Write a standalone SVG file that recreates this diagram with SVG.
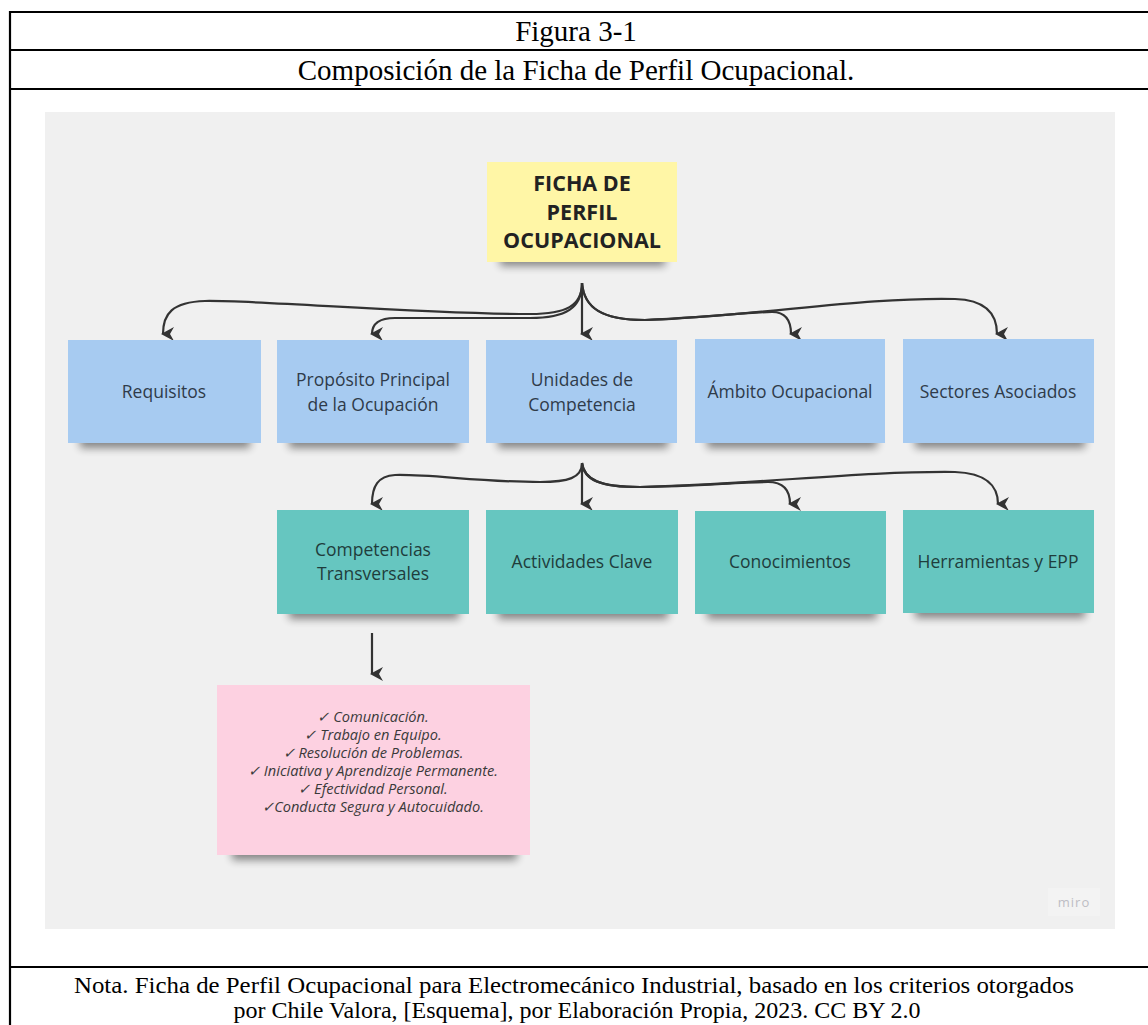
<svg xmlns="http://www.w3.org/2000/svg" width="1148" height="1025" viewBox="0 0 1148 1025">
<style>
.cap{font-family:"Liberation Serif","Times New Roman",serif;font-size:24px;fill:#000;text-anchor:middle}
.capb{font-family:"Liberation Serif","Times New Roman",serif;font-size:29px;fill:#000;text-anchor:middle}
.lbl{font-family:"Open Sans","Noto Sans",sans-serif;font-size:17.5px;fill:#2f3b4a;text-anchor:middle}
.lblt{font-family:"Open Sans","Noto Sans",sans-serif;font-size:17.5px;fill:#1f3d3c;text-anchor:middle}
.head{font-family:"Open Sans","Noto Sans",sans-serif;font-size:21.5px;font-weight:bold;fill:#222;text-anchor:middle}
.lst{font-family:"Open Sans","Noto Sans",sans-serif;font-size:14.6px;font-style:italic;fill:#3a3a3a;text-anchor:middle}
.blue{fill:#a7cbf1}
.teal{fill:#66c6c0}
.pink{fill:#fdd1e1}
.yel{fill:#fff6a6}
.shd{fill:#000;opacity:0.45;filter:url(#blur)}
.con{fill:none;stroke:#333;stroke-width:2.2;marker-end:url(#ah)}
.rule{stroke:#000;stroke-width:2.2}
</style>
<defs>
<filter id="blur" x="-20%" y="-100%" width="140%" height="300%"><feGaussianBlur stdDeviation="4"/></filter>
<marker id="ah" markerUnits="userSpaceOnUse" markerWidth="16" markerHeight="16" viewBox="0 0 16 16" refX="8" refY="13" orient="auto"><path d="M1,2 L8,6 L15,2 L8,15 Z" fill="#333"/></marker>
</defs>
<rect width="1148" height="1025" fill="#fff"/>
<g id="table">
<line class="rule" x1="10" y1="12" x2="1148" y2="12"/>
<line class="rule" x1="10" y1="50" x2="1148" y2="50"/>
<line class="rule" x1="10" y1="89" x2="1148" y2="89"/>
<line class="rule" x1="10" y1="967" x2="1148" y2="967"/>
<line class="rule" x1="10" y1="11" x2="10" y2="1025"/>
<text class="capb" x="576" y="41">Figura 3-1</text>
<text class="capb" x="576" y="80">Composición de la Ficha de Perfil Ocupacional.</text>
<text class="cap" x="574" y="993" textLength="1000" lengthAdjust="spacingAndGlyphs">Nota. Ficha de Perfil Ocupacional para Electromecánico Industrial, basado en los criterios otorgados</text>
<text class="cap" x="577" y="1018">por Chile Valora, [Esquema], por Elaboración Propia, 2023. CC BY 2.0</text>
</g>
<rect id="panel" x="45" y="112" width="1070" height="817" fill="#f0f0f0"/>
<g id="miro-badge">
<rect x="1048" y="888" width="52" height="28" fill="#f3f3f3"/>
<text x="1074" y="907" font-family="Open Sans,Noto Sans,sans-serif" font-size="13" fill="#bdbdc4" text-anchor="middle" letter-spacing="1">miro</text>
</g>
<g id="connectors">
<path class="con" d="M582,283 C582,306 566,314 530,314 C420,314 260,300 205,301 C172,302 163,314 163,334"/>
<path class="con" d="M582,283 C582,308 566,318 530,318 L395,318 C379,318 372,324 372,334"/>
<path class="con" d="M582,283 L582,334"/>
<path class="con" d="M582,283 C584,308 602,320 645,320 C705,318 745,312 772,312 C786,312 791,321 791,334"/>
<path class="con" d="M582,283 C584,308 602,320 645,320 C760,316 860,297 955,299 C986,300 997,314 997,334"/>
<path class="con" d="M582,463 C582,478 568,482 540,482 C480,482 430,474 395,475 C378,476 372,486 372,504"/>
<path class="con" d="M582,463 L582,504"/>
<path class="con" d="M582,463 C584,480 600,487 640,487 C700,486 740,482 768,482 C783,482 790,490 790,504"/>
<path class="con" d="M582,463 C584,480 600,487 640,487 C760,484 860,471 955,472 C986,473 998,486 998,504"/>
<path class="con" d="M372,633 L372,674"/>
</g>
<g id="n-ficha">
<rect class="shd" x="500" y="248" width="165" height="18"/>
<rect class="yel" x="487" y="162" width="190" height="100"/>
<text class="head" x="582" y="191">FICHA DE</text>
<text class="head" x="582" y="220">PERFIL</text>
<text class="head" x="582" y="248">OCUPACIONAL</text>
</g>
<g id="n-requisitos">
<rect class="shd" x="80" y="432" width="170" height="16"/>
<rect class="blue" x="68" y="340" width="193" height="103"/>
<text class="lbl" x="164" y="398">Requisitos</text>
</g>
<g id="n-proposito">
<rect class="shd" x="289" y="432" width="170" height="16"/>
<rect class="blue" x="277" y="340" width="192" height="103"/>
<text class="lbl" x="373" y="386">Propósito Principal</text>
<text class="lbl" x="373" y="411">de la Ocupación</text>
</g>
<g id="n-unidades">
<rect class="shd" x="498" y="432" width="170" height="16"/>
<rect class="blue" x="486" y="340" width="191" height="103"/>
<text class="lbl" x="582" y="386">Unidades de</text>
<text class="lbl" x="582" y="411">Competencia</text>
</g>
<g id="n-ambito">
<rect class="shd" x="707" y="432" width="170" height="16"/>
<rect class="blue" x="695" y="339" width="190" height="104"/>
<text class="lbl" x="790" y="398">Ámbito Ocupacional</text>
</g>
<g id="n-sectores">
<rect class="shd" x="915" y="432" width="170" height="16"/>
<rect class="blue" x="903" y="339" width="191" height="104"/>
<text class="lbl" x="998" y="398">Sectores Asociados</text>
</g>
<g id="n-competencias">
<rect class="shd" x="289" y="603" width="170" height="16"/>
<rect class="teal" x="277" y="510" width="192" height="104"/>
<text class="lblt" x="373" y="556">Competencias</text>
<text class="lblt" x="373" y="580">Transversales</text>
</g>
<g id="n-actividades">
<rect class="shd" x="498" y="603" width="170" height="16"/>
<rect class="teal" x="486" y="510" width="192" height="104"/>
<text class="lblt" x="582" y="568">Actividades Clave</text>
</g>
<g id="n-conocimientos">
<rect class="shd" x="707" y="603" width="170" height="16"/>
<rect class="teal" x="695" y="511" width="191" height="103"/>
<text class="lblt" x="790" y="568">Conocimientos</text>
</g>
<g id="n-herramientas">
<rect class="shd" x="915" y="602" width="170" height="16"/>
<rect class="teal" x="903" y="510" width="191" height="103"/>
<text class="lblt" x="998" y="568">Herramientas y EPP</text>
</g>
<g id="n-lista">
<rect class="shd" x="232" y="842" width="285" height="18"/>
<rect class="pink" x="217" y="685" width="313" height="170"/>
<text class="lst" x="373" y="722">✓ Comunicación.</text>
<text class="lst" x="373" y="740">✓ Trabajo en Equipo.</text>
<text class="lst" x="373" y="758">✓ Resolución de Problemas.</text>
<text class="lst" x="373" y="776">✓ Iniciativa y Aprendizaje Permanente.</text>
<text class="lst" x="373" y="794">✓ Efectividad Personal.</text>
<text class="lst" x="373" y="812">✓Conducta Segura y Autocuidado.</text>
</g>
</svg>
